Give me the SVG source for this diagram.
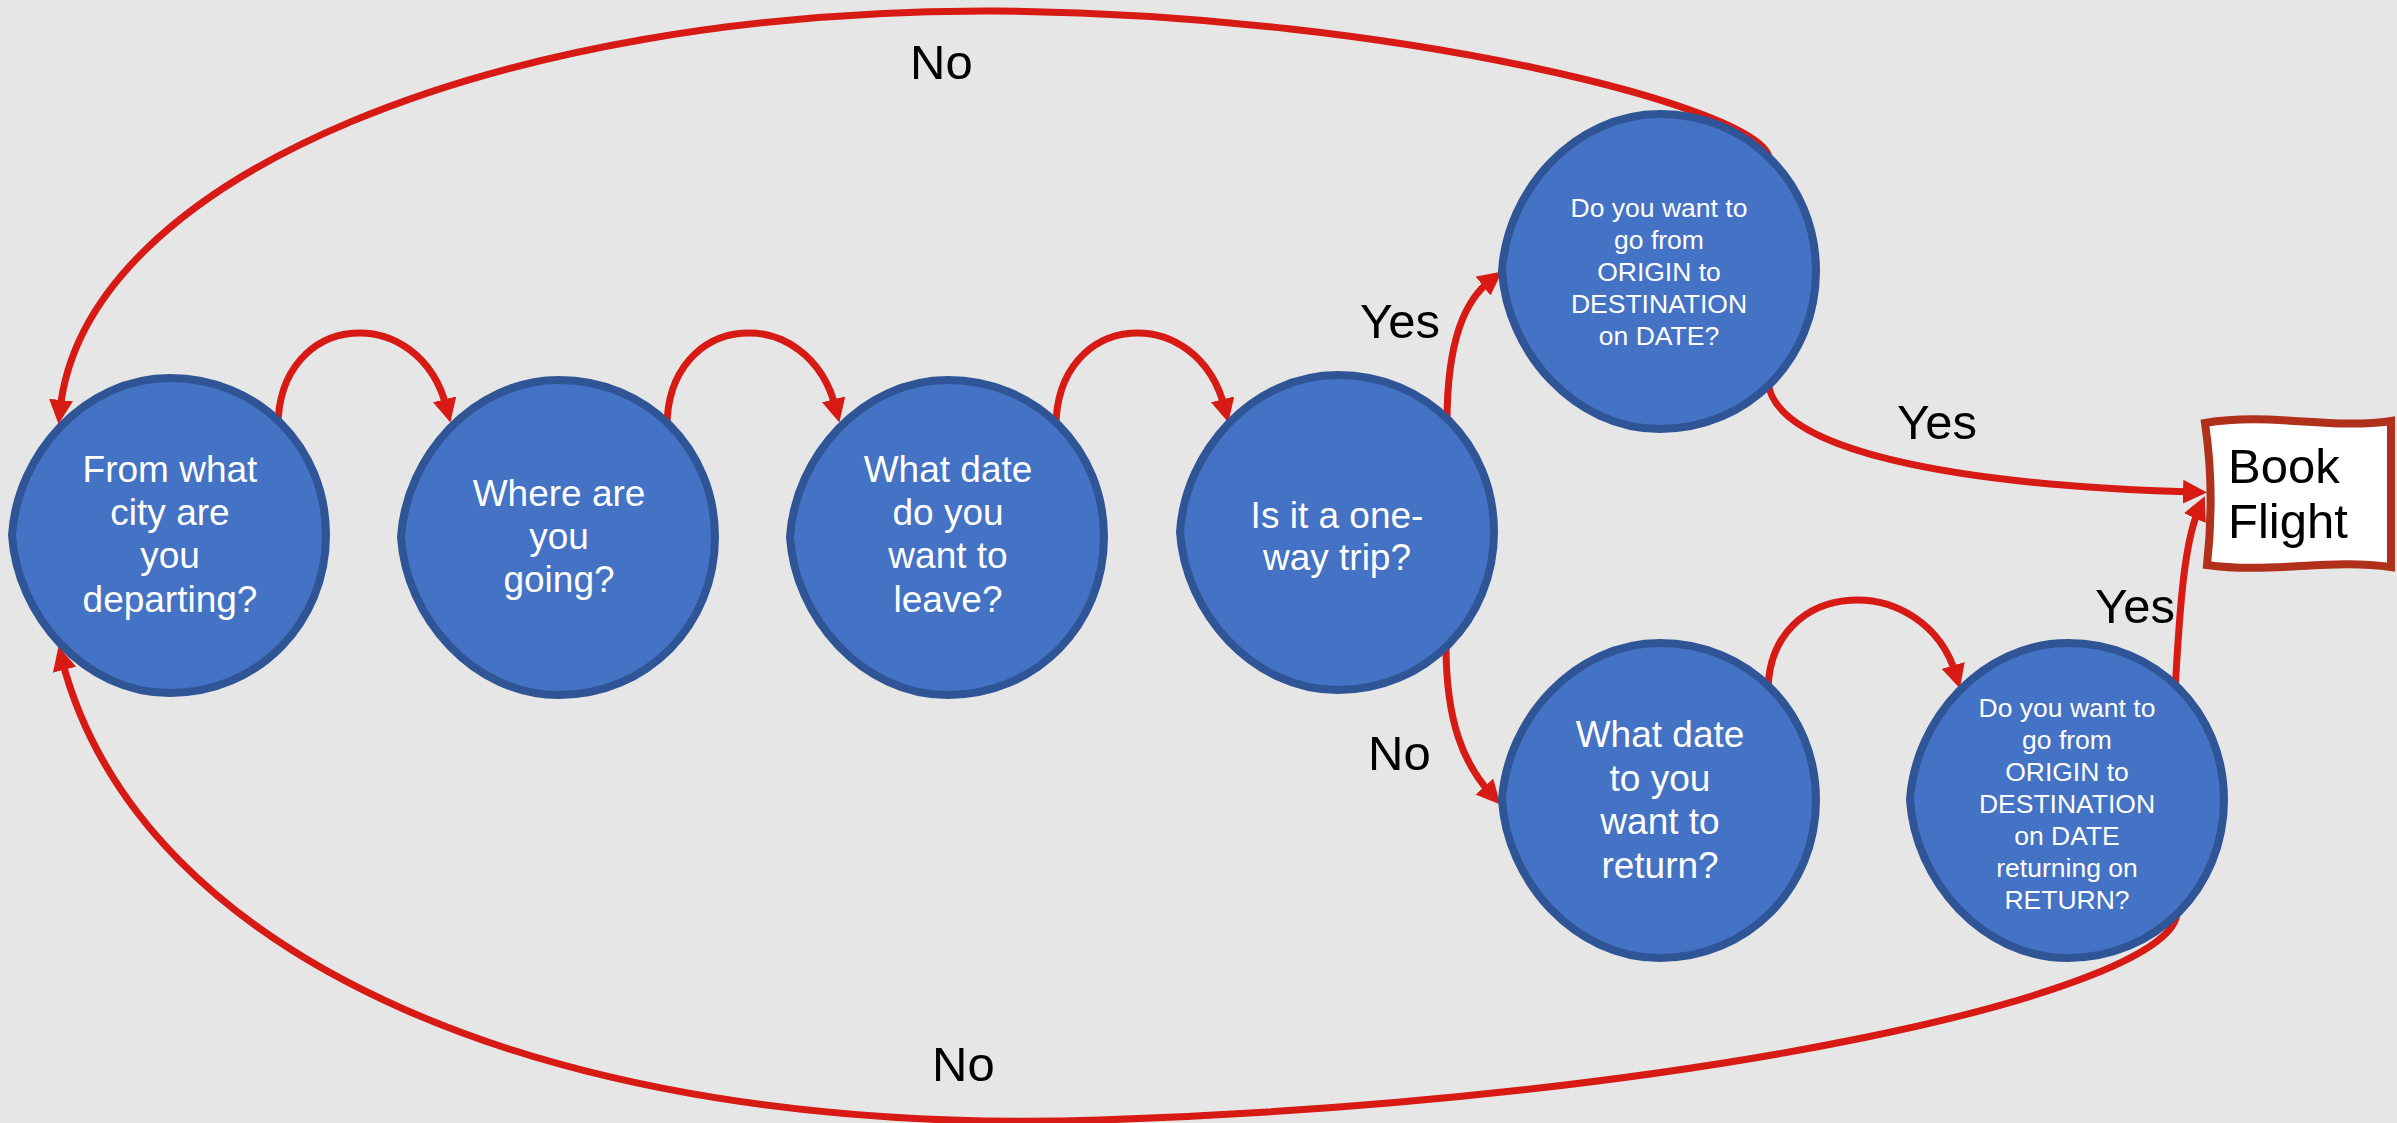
<svg xmlns="http://www.w3.org/2000/svg" xmlns:xlink="http://www.w3.org/1999/xlink" width="2397" height="1123" viewBox="0 0 2397 1123">
<style>
.bg{fill:#E6E6E6}
.node{fill:#4472C4;stroke:#2F5597;stroke-width:8}
.nt{font-family:"Liberation Sans",Arial,Helvetica,sans-serif;fill:#FFFFFF;text-anchor:middle;font-size:37px}
.ns{font-family:"Liberation Sans",Arial,Helvetica,sans-serif;fill:#FFFFFF;text-anchor:middle;font-size:26.5px}
.lbl{font-family:"Liberation Sans",Arial,Helvetica,sans-serif;fill:#000000;font-size:49px}
.edge{fill:none;stroke:#D71A14;stroke-width:7;marker-end:url(#arr)}
.book{fill:#FFFFFF;stroke:#B0301C;stroke-width:8}
</style>
<defs>
<marker id="arr" markerUnits="userSpaceOnUse" viewBox="0 0 24 24" markerWidth="24" markerHeight="24" refX="10" refY="12" orient="auto">
<path d="M0,0 L24,12 L0,24 Z" fill="#D71A14"/>
</marker>
<path id="blob" d="M-158,0 C-153,-80 -86,-157 0,-157 C88,-157 156,-88 156,0 C156,88 88,158 0,158 C-86,158 -153,80 -158,0 Z"/>
</defs>
<rect class="bg" x="0" y="0" width="2397" height="1123"/>

<g id="connectors">
<path class="edge" d="M1769,159 C1769,110 1400,14 994,11 C500,9 85,175 60,410"/>
<path class="edge" d="M2177,912 C2177,990 1700,1100 1100,1120 C550,1138 140,960 62,660"/>
<path class="edge" d="M278,427 C278,310 420,300 447,409"/>
<path class="edge" d="M667,427 C667,310 809,300 836,409"/>
<path class="edge" d="M1056,427 C1056,310 1198,300 1225,409"/>
<path class="edge" d="M1768,692 C1768,575 1925,570 1956,675"/>
<path class="edge" d="M1447,423 C1447,340 1465,300 1491,280"/>
<path class="edge" d="M1446,645 C1446,725 1465,765 1491,794"/>
<path class="edge" d="M1768,382 C1775,450 1950,485 2193,492"/>
<path class="edge" d="M2175,692 C2180,600 2185,540 2199,509"/>
</g>

<g id="n1">
<use xlink:href="#blob" class="node" transform="translate(170,535)"/>
<text class="nt" x="170" y="482">From what</text>
<text class="nt" x="170" y="525">city are</text>
<text class="nt" x="170" y="568">you</text>
<text class="nt" x="170" y="612">departing?</text>
</g>
<g id="n2">
<use xlink:href="#blob" class="node" transform="translate(559,537)"/>
<text class="nt" x="559" y="506">Where are</text>
<text class="nt" x="559" y="549">you</text>
<text class="nt" x="559" y="592">going?</text>
</g>
<g id="n3">
<use xlink:href="#blob" class="node" transform="translate(948,537)"/>
<text class="nt" x="948" y="482">What date</text>
<text class="nt" x="948" y="525">do you</text>
<text class="nt" x="948" y="568">want to</text>
<text class="nt" x="948" y="612">leave?</text>
</g>
<g id="n4">
<use xlink:href="#blob" class="node" transform="translate(1338,532)"/>
<text class="nt" x="1337" y="528">Is it a one-</text>
<text class="nt" x="1337" y="570">way trip?</text>
</g>
<g id="n5">
<use xlink:href="#blob" class="node" transform="translate(1660,271)"/>
<text class="ns" x="1659" y="217">Do you want to</text>
<text class="ns" x="1659" y="249">go from</text>
<text class="ns" x="1659" y="281">ORIGIN to</text>
<text class="ns" x="1659" y="313">DESTINATION</text>
<text class="ns" x="1659" y="345">on DATE?</text>
</g>
<g id="n6">
<use xlink:href="#blob" class="node" transform="translate(1660,800)"/>
<text class="nt" x="1660" y="747">What date</text>
<text class="nt" x="1660" y="791">to you</text>
<text class="nt" x="1660" y="834">want to</text>
<text class="nt" x="1660" y="878">return?</text>
</g>
<g id="n7">
<use xlink:href="#blob" class="node" transform="translate(2068,800)"/>
<text class="ns" x="2067" y="717">Do you want to</text>
<text class="ns" x="2067" y="749">go from</text>
<text class="ns" x="2067" y="781">ORIGIN to</text>
<text class="ns" x="2067" y="813">DESTINATION</text>
<text class="ns" x="2067" y="845">on DATE</text>
<text class="ns" x="2067" y="877">returning on</text>
<text class="ns" x="2067" y="909">RETURN?</text>
</g>
<g id="book">
<path class="book" d="M2205,423 C2270,412 2330,430 2391,421 L2391,567 C2330,558 2270,574 2207,565 C2212,520 2212,470 2205,423 Z"/>
<text class="lbl" x="2228" y="483">Book</text>
<text class="lbl" x="2228" y="538">Flight</text>
</g>

<g id="labels">
<text class="lbl" x="910" y="79">No</text>
<text class="lbl" x="1360" y="338">Yes</text>
<text class="lbl" x="1368" y="770">No</text>
<text class="lbl" x="1897" y="439">Yes</text>
<text class="lbl" x="2095" y="623">Yes</text>
<text class="lbl" x="932" y="1081">No</text>
</g>
</svg>
